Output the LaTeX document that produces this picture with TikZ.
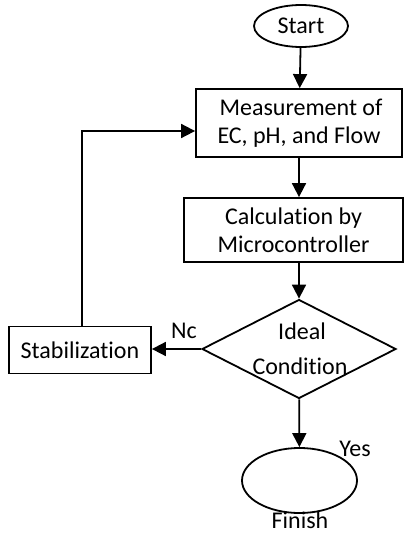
\documentclass[tikz,border=0pt]{standalone}
\usepackage{fontspec}
\setmainfont[Ligatures=NoCommon]{Carlito}
\usetikzlibrary{shapes.geometric,arrows.meta}
\begin{document}
\begin{tikzpicture}[x=1pt,y=-1pt,
  every node/.style={font=\fontsize{24}{28}\selectfont},
  box/.style={draw,line width=1.8pt,inner sep=0pt,align=center},
  term/.style={draw,line width=1.8pt,ellipse,inner sep=0pt},
  decision/.style={draw,line width=1.8pt,diamond,inner sep=0pt},
  arr/.style={line width=1.8pt,-{Triangle[length=14pt,width=14pt]}},
  lbl/.style={inner sep=0pt}]
\useasboundingbox (0,0) rectangle (409,535);
\node[term,minimum width=94pt,minimum height=42pt] (start) at (301,26) {Start};
\node[box,minimum width=206pt,minimum height=68pt] (meas) at (299,123) {\,Measurement of\\EC, pH, and Flow};
\node[box,minimum width=219pt,minimum height=64pt] (calc) at (293.5,230) {Calculation by\\Microcontroller};
\node[decision,minimum width=194pt,minimum height=99pt] (dec) at (299,349) {};
\node[lbl] (ideal) at (302,331) {Ideal};
\node[lbl] (cond) at (300,366) {Condition};
\node[box,minimum width=142pt,minimum height=47pt] (stab) at (80,350) {Stabilization};
\node[term,minimum width=115pt,minimum height=65pt] (fin) at (299.5,480.5) {};
\node[lbl,anchor=base] (finl) at (300,528) {Finish};
\node[lbl] (yes) at (355,449) {Yes};
\node[lbl] (nc) at (184,331) {Nc};
\coordinate (corner) at (82,131);
\draw[arr] (start) -- (meas);
\draw[arr] (meas) -- (calc.north -| meas.south);
\draw[arr] (calc.south -| dec.north) -- (dec);
\draw[arr] (dec.west) -- (stab.east |- dec.west);
\draw[arr] (stab.north -| corner) -- (corner) -- (meas.west |- corner);
\draw[arr] (dec) -- (fin);
\end{tikzpicture}
\end{document}
